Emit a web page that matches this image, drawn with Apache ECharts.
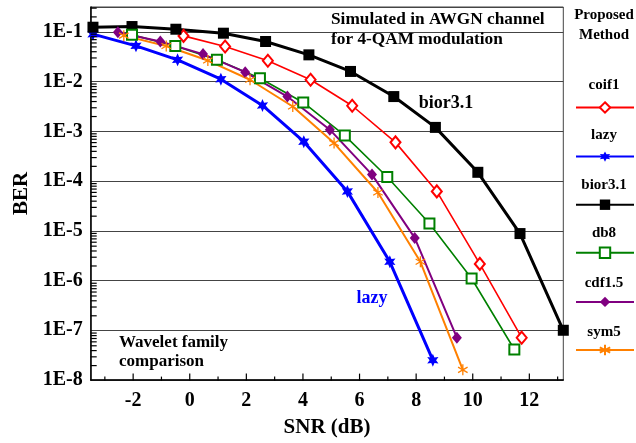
<!DOCTYPE html>
<html>
<head>
<meta charset="utf-8">
<script src="https://cdn.jsdelivr.net/npm/echarts@6/dist/echarts.min.js"></script>
<style>html,body{margin:0;padding:0;background:#fff}#c{width:636px;height:443px}</style>
</head>
<body>
<div id="c"></div>
<script>
// ---- data ----
const seriesNames = ['coif1', 'lazy', 'bior3.1', 'db8', 'cdf1.5', 'sym5'];

const snrCoif1 = [-0.22, 1.25, 2.76, 4.27, 5.74, 7.27, 8.73, 10.25, 11.73];
const berCoif1 = [0.083, 0.0507, 0.0262, 0.0109, 3.27e-3, 6.0e-4, 6.2e-5, 2.16e-6, 7.1e-8];

const snrLazy = [-3.42, -1.9, -0.43, 1.1, 2.57, 4.03, 5.57, 7.07, 8.59];
const berLazy = [0.09, 0.0524, 0.0274, 0.0112, 3.31e-3, 6.2e-4, 6.2e-5, 2.38e-6, 2.5e-8];

const snrBior = [-3.42, -2.04, -0.49, 1.19, 2.68, 4.21, 5.68, 7.21, 8.68, 10.18, 11.67, 13.2];
const berBior = [0.124, 0.128, 0.113, 0.094, 0.064, 0.0345, 0.016, 0.005, 1.2e-3, 1.5e-4, 8.8e-6, 1.0e-7];

const snrDb8 = [-2.04, -0.51, 0.96, 2.48, 4.01, 5.48, 6.98, 8.47, 9.96, 11.47];
const berDb8 = [0.087, 0.052, 0.0274, 0.0117, 3.8e-3, 8.2e-4, 1.21e-4, 1.4e-5, 1.1e-6, 4.1e-8];

const snrCdf = [-2.54, -1.04, 0.47, 1.96, 3.45, 4.95, 6.44, 7.95, 9.44];
const berCdf = [0.0986, 0.0638, 0.0357, 0.0155, 5.0e-3, 1.08e-3, 1.35e-4, 7.2e-6, 7.1e-8];

const snrSym5 = [-2.33, -0.83, 0.64, 2.13, 3.64, 5.1, 6.65, 8.15, 9.65];
const berSym5 = [0.084, 0.052, 0.0265, 0.0109, 3.16e-3, 5.8e-4, 5.9e-5, 2.38e-6, 1.6e-8];

const xLabelTicks = [-2, 0, 2, 4, 6, 8, 10, 12];
const xMinorTicks = [-3, -1, 1, 3, 5, 7, 9, 11, 13];
const yDecadeExp = [-8, -7, -6, -5, -4, -3, -2, -1];
const yMinorMultipliers = [2, 3, 4, 5, 6, 7, 8, 9];
// minor tick positions, expressed as log10(BER)
const yMinorTicksLog = [];
for (const e of yDecadeExp) { for (const k of yMinorMultipliers) { const v = e + Math.log10(k); if (v < -0.5) yMinorTicksLog.push(v); } }

// ---- chart ----
const FONT = '"Liberation Serif", "Times New Roman", serif';
const X_MIN = -3.5, X_MAX = 13.2, Y_MIN = 1e-8, Y_MAX = 0.3162;
const zip = (xs, ys) => xs.map((x, i) => [x, ys[i]]);
const starPath = 'path://M0,-10L2.5,-4.33L8.66,-5L5,0L8.66,5L2.5,4.33L0,10L-2.5,4.33L-8.66,5L-5,0L-8.66,-5L-2.5,-4.33Z';
const asteriskPath = 'path://M0,-10L0,10M-8.66,-5L8.66,5M-8.66,5L8.66,-5';

function mk(name, xs, ys, color, width, symbol, size, itemStyle) {
  return {
    name, type: 'line', xAxisIndex: 0, yAxisIndex: 0,
    data: zip(xs, ys), color,
    symbol, symbolSize: size, symbolKeepAspect: true,
    lineStyle: { color, width },
    itemStyle: Object.assign({ color }, itemStyle || {}),
    emphasis: { disabled: true },
    animation: false
  };
}
// tick marks drawn as short strokes, positioned through the helper grid's scales
function tickMarks(points, dx, dy) {
  return {
    type: 'custom', xAxisIndex: 1, yAxisIndex: 1, silent: true, clip: false, z: 10, animation: false,
    encode: { x: 0, y: 1 },
    data: points,
    renderItem: (params, api) => {
      const p = api.coord([api.value(0), api.value(1)]);
      return {
        type: 'line',
        shape: { x1: p[0], y1: p[1], x2: p[0] + dx, y2: p[1] + dy },
        style: { stroke: '#000', lineWidth: 1.2 }
      };
    }
  };
}

const chart = echarts.init(document.getElementById('c'), null, { renderer: 'canvas' });
const txt = (x, y, text, size, align, fill) => ({
  type: 'text', x, y, z: 100,
  style: { text, font: 'bold ' + size + 'px ' + FONT, fill: fill || '#000', align: align || 'center', verticalAlign: 'middle' }
});
const gridRect = { left: 90.7, right: 72.7, top: 7, bottom: 62.4 };
const yLogMin = Math.log10(Y_MIN), yLogMax = Math.log10(Y_MAX);

chart.setOption({
  backgroundColor: '#fff',
  animation: false,
  grid: [
    Object.assign({ show: true, borderColor: '#444', borderWidth: 1 }, gridRect),
    Object.assign({ show: false }, gridRect)
  ],
  xAxis: [{
    type: 'value', gridIndex: 0, min: X_MIN, max: X_MAX, position: 'bottom',
    name: 'SNR (dB)', nameLocation: 'middle', nameGap: 37,
    nameTextStyle: { fontFamily: FONT, fontWeight: 'bold', fontSize: 21, color: '#000' },
    axisLine: { show: true, onZero: false, lineStyle: { color: '#000', width: 1.5 } },
    axisTick: { show: false },
    axisLabel: { customValues: xLabelTicks, margin: 11, fontFamily: FONT, fontWeight: 'bold', fontSize: 20, color: '#000' },
    splitLine: { show: false }
  }, {
    type: 'value', gridIndex: 1, min: X_MIN, max: X_MAX,
    axisLine: { show: false, onZero: false }, axisTick: { show: false },
    axisLabel: { show: false }, splitLine: { show: false }
  }],
  yAxis: [{
    type: 'log', gridIndex: 0, min: Y_MIN, max: Y_MAX, position: 'left',
    name: 'BER', nameLocation: 'middle', nameGap: 49,
    nameTextStyle: { fontFamily: FONT, fontWeight: 'bold', fontSize: 21, color: '#000' },
    axisLine: { show: true, onZero: false, lineStyle: { color: '#000', width: 1.5 } },
    axisTick: { show: false },
    axisLabel: {
      margin: 8, fontFamily: FONT, fontWeight: 'bold', fontSize: 20, color: '#000',
      formatter: v => { const e = Math.log10(v); return Math.abs(e - Math.round(e)) < 1e-6 ? '1E' + Math.round(e) : ''; }
    },
    splitLine: { show: true, lineStyle: { color: '#444', width: 1.2 } }
  }, {
    type: 'value', gridIndex: 1, min: yLogMin, max: yLogMax,
    axisLine: { show: false, onZero: false }, axisTick: { show: false },
    axisLabel: { show: false }, splitLine: { show: false }
  }],
  legend: {
    orient: 'vertical', left: 575, top: 101, padding: 0, itemWidth: 58, itemHeight: 13, itemGap: 36.4,
    data: seriesNames, formatter: () => '', selectedMode: false,
    textStyle: { fontSize: 1 }
  },
  series: [
    mk('coif1', snrCoif1, berCoif1, '#ff0000', 1.6, 'emptyDiamond', [10, 12], { borderColor: '#ff0000', borderWidth: 1.3 }),
    mk('lazy', snrLazy, berLazy, '#0000ff', 3, starPath, 13),
    mk('bior3.1', snrBior, berBior, '#000000', 3, 'rect', 11),
    mk('db8', snrDb8, berDb8, '#008000', 1.6, 'emptyRect', 10, { borderColor: '#008000', borderWidth: 1.3 }),
    mk('cdf1.5', snrCdf, berCdf, '#800080', 2, 'diamond', [10, 12]),
    mk('sym5', snrSym5, berSym5, '#ff8000', 2, asteriskPath, 11, { borderColor: '#ff8000', borderWidth: 1.3 }),
    tickMarks(yMinorTicksLog.map(v => [X_MIN, v]), 6, 0),
    tickMarks(xLabelTicks.map(v => [v, yLogMin]), 0, -7),
    tickMarks(xMinorTicks.map(v => [v, yLogMin]), 0, -4)
  ],
  graphic: [
    txt(604, 15, 'Proposed', 15), txt(604, 35, 'Method', 15),
    txt(604, 85, 'coif1', 15), txt(604, 135, 'lazy', 15), txt(604, 185, 'bior3.1', 15),
    txt(604, 233, 'db8', 15), txt(604, 283, 'cdf1.5', 15), txt(604, 332, 'sym5', 15),
    txt(331, 20, 'Simulated in AWGN channel', 17.3, 'left'),
    txt(331, 40, 'for 4-QAM modulation', 17.3, 'left'),
    txt(446, 103, 'bior3.1', 18),
    txt(372, 298, 'lazy', 18, 'center', '#0000ff'),
    txt(119, 343, 'Wavelet family', 17, 'left'),
    txt(119, 362, 'comparison', 17, 'left')
  ]
});
</script>
</body>
</html>
